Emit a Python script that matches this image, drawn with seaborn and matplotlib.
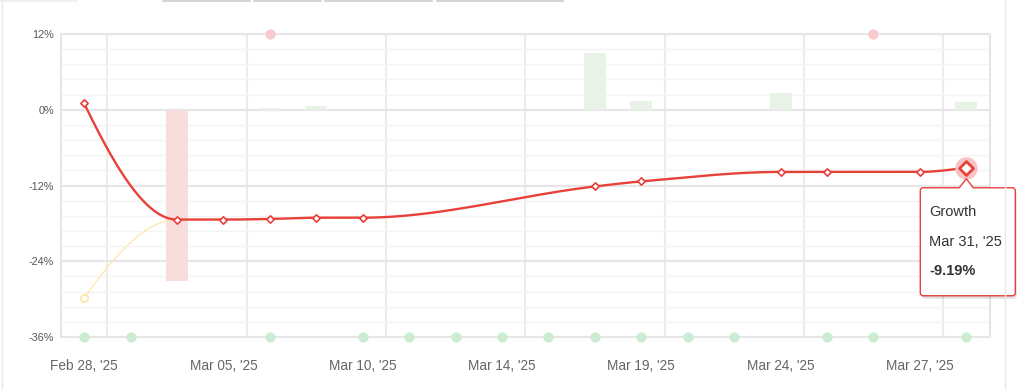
import numpy as np
import pandas as pd
import matplotlib
matplotlib.use("Agg")
import matplotlib.pyplot as plt
import matplotlib.transforms as mtransforms
from matplotlib.path import Path
from matplotlib.patches import PathPatch
from matplotlib.lines import Line2D
import seaborn as sns

# trading days shown on the category axis
dates = ["Feb 28, '25", "Mar 03, '25", "Mar 04, '25", "Mar 05, '25", "Mar 06, '25",
         "Mar 07, '25", "Mar 10, '25", "Mar 11, '25", "Mar 12, '25", "Mar 14, '25",
         "Mar 17, '25", "Mar 18, '25", "Mar 19, '25", "Mar 20, '25", "Mar 21, '25",
         "Mar 24, '25", "Mar 25, '25", "Mar 26, '25", "Mar 27, '25", "Mar 31, '25"]

# growth line (%), NaN where there is no point
growth = [1.0, np.nan, -17.4, -17.4, -17.3, -17.1, -17.1, np.nan, np.nan, np.nan,
          np.nan, -12.15, -11.35, np.nan, np.nan, -9.85, -9.85, np.nan, -9.85, -9.19]

# pale yellow series, only visible at the start
bench_idx = [0, 2, 3]
bench_val = [-29.8, -17.4, -17.4]

# daily change bars (%)
bar_idx = [2, 4, 5, 11, 12, 15, 19]
bar_val = [-27.2, 0.27, 0.53, 8.98, 1.43, 2.64, 1.22]

# event markers
green_idx = [0, 1, 4, 6, 7, 8, 9, 10, 11, 12, 13, 14, 16, 17, 19]
pink_idx = [4, 17]

y_ticks = [12, 0, -12, -24, -36]
y_labels = ["12%", "0%", "-12%", "-24%", "-36%"]

RED = "#e8403a"
GRID = "#e6e6e6"

sns.set_theme(style="white")
plt.rcParams["font.family"] = ["Liberation Sans", "DejaVu Sans"]


def pchip(x, y, n=40):
    # monotone cubic curve, used only to draw the smoothed line
    x = np.asarray(x, float)
    y = np.asarray(y, float)
    h = np.diff(x)
    d = np.diff(y) / h
    m = np.zeros_like(y)
    for k in range(1, len(x) - 1):
        if d[k - 1] * d[k] <= 0:
            m[k] = 0
        else:
            w1 = 2 * h[k] + h[k - 1]
            w2 = h[k] + 2 * h[k - 1]
            m[k] = (w1 + w2) / (w1 / d[k - 1] + w2 / d[k])

    def end(h0, h1, d0, d1):
        s = ((2 * h0 + h1) * d0 - h0 * d1) / (h0 + h1)
        if np.sign(s) != np.sign(d0):
            s = 0
        elif np.sign(d0) != np.sign(d1) and abs(s) > abs(3 * d0):
            s = 3 * d0
        return s

    if len(x) > 2:
        m[0] = end(h[0], h[1], d[0], d[1])
        m[-1] = end(h[-1], h[-2], d[-1], d[-2])
    else:
        m[:] = d[0]
    xs, ys = [], []
    for k in range(len(x) - 1):
        t = np.linspace(0, 1, n)
        h00 = 2 * t**3 - 3 * t**2 + 1
        h10 = t**3 - 2 * t**2 + t
        h01 = -2 * t**3 + 3 * t**2
        h11 = t**3 - t**2
        xs.append(x[k] + t * h[k])
        ys.append(h00 * y[k] + h10 * h[k] * m[k] + h01 * y[k + 1] + h11 * h[k] * m[k + 1])
    return np.concatenate(xs), np.concatenate(ys)


fig = plt.figure(figsize=(10.19, 3.89), dpi=100)
ax = fig.add_axes([61 / 1019, 52 / 389, 928.5 / 1019, 303 / 389])

# bars
bars = pd.DataFrame({"i": bar_idx, "v": bar_val})
bars["sign"] = np.where(bars["v"] < 0, "neg", "pos")
sns.barplot(data=bars, x="i", y="v", hue="sign", native_scale=True, width=0.475,
            palette={"neg": "#fdd8d8", "pos": "#e7f4e4"}, dodge=False,
            legend=False, ax=ax, zorder=2, linewidth=0)

# yellow series
bx, by = pchip(bench_idx, bench_val)
sns.lineplot(x=bx, y=by, sort=False, estimator=None, color="#fde9b2",
             linewidth=1.0, ax=ax, zorder=3)
sns.scatterplot(x=bench_idx[:1], y=bench_val[:1], marker="o", s=28,
                facecolor="white", edgecolor="#fde6a8", linewidth=1.2, ax=ax, zorder=3)

# growth line
gi = np.array([i for i, v in enumerate(growth) if not np.isnan(v)])
gv = np.array([growth[i] for i in gi])
gx, gy = pchip(gi, gv)
sns.lineplot(x=gx, y=gy, sort=False, estimator=None, color=RED, linewidth=1.7,
             ax=ax, zorder=4)
sns.scatterplot(x=gi[:-1], y=gv[:-1], marker="D", s=14, facecolor="white",
                edgecolor=RED, linewidth=1.2, ax=ax, zorder=5)

# hovered point
sns.scatterplot(x=gi[-1:], y=gv[-1:], marker="o", s=260, color="#f6c4c4",
                linewidth=0, ax=ax, zorder=5)
sns.scatterplot(x=gi[-1:], y=gv[-1:], marker="D", s=50, facecolor="white",
                edgecolor=RED, linewidth=2.0, ax=ax, zorder=6)

# event dots
sns.scatterplot(x=green_idx, y=[-36] * len(green_idx), s=55, color="#c9ecd2",
                linewidth=0, ax=ax, zorder=6, clip_on=False)
sns.scatterplot(x=pink_idx, y=[12] * len(pink_idx), s=55, color="#f9cacd",
                linewidth=0, ax=ax, zorder=6, clip_on=False)

# axes
ax.set_xlim(-0.5, len(dates) - 0.5)
ax.set_ylim(-36, 12)
ax.set_xticks(range(0, len(dates), 3))
ax.set_xticklabels([dates[i] for i in range(0, len(dates), 3)])
ax.set_xticks([i + 0.5 for i in range(0, len(dates) - 1, 3)], minor=True)
ax.set_yticks(y_ticks)
ax.set_yticklabels(y_labels)
ax.set_yticks(np.arange(-36, 12.1, 2.4), minor=True)
ax.tick_params(axis="x", length=0, pad=16, labelsize=9.8, labelcolor="#666666")
ax.tick_params(axis="y", length=0, pad=5, labelsize=7.8, labelcolor="#555555")
ax.tick_params(which="minor", length=0)
ax.grid(False)
ax.grid(axis="y", which="major", color=GRID, linewidth=1.5, zorder=0)
ax.grid(axis="y", which="minor", color="#f4f4f4", linewidth=1.0, zorder=0)
ax.grid(axis="x", which="minor", color="#ececec", linewidth=1.5, zorder=0)
ax.set_axisbelow(True)
ax.set_xlabel("")
ax.set_ylabel("")
for s in ax.spines.values():
    s.set_color(GRID)
    s.set_linewidth(1.5)

# tooltip, drawn in pixel offsets from the hovered point
tr = mtransforms.Affine2D() + mtransforms.ScaledTranslation(gi[-1], gv[-1], ax.transData)
L, R, T, B, r = -46, 49, -20, -128, 3
verts = [(0, -11), (7, T), (R - r, T), (R, T), (R, T - r), (R, B + r), (R, B),
         (R - r, B), (L + r, B), (L, B), (L, B + r), (L, T - r), (L, T), (L + r, T),
         (-7, T), (0, -11)]
codes = [Path.MOVETO, Path.LINETO, Path.LINETO, Path.CURVE3, Path.CURVE3, Path.LINETO,
         Path.CURVE3, Path.CURVE3, Path.LINETO, Path.CURVE3, Path.CURVE3, Path.LINETO,
         Path.CURVE3, Path.CURVE3, Path.LINETO, Path.CLOSEPOLY]
shadow_tr = mtransforms.Affine2D().translate(1.5, -3) + tr
ax.add_patch(PathPatch(Path(verts, codes), transform=shadow_tr, facecolor="#000000",
                       alpha=0.12, edgecolor="none", clip_on=False, zorder=9))
ax.add_patch(PathPatch(Path(verts, codes), transform=tr, facecolor="white",
                       edgecolor=RED, linewidth=1.0, clip_on=False, zorder=10))
for txt, dy, wt in [("Growth", -44, "normal"), (dates[-1], -74, "normal"),
                    (f"{gv[-1]:.2f}%", -103, "bold")]:
    ax.annotate(txt, xy=(gi[-1], gv[-1]), xytext=(-37, dy), textcoords="offset pixels",
                ha="left", va="center", fontsize=10.5, color="#333333",
                fontweight=wt, zorder=11, annotation_clip=False)

# panel frame around the chart
W, H = 1019, 389
def fline(x0, y0, x1, y1, c, lw=1.0):
    fig.add_artist(Line2D([x0 / W, x1 / W], [1 - y0 / H, 1 - y1 / H], color=c,
                          linewidth=lw, transform=fig.transFigure))

fline(2, 0, 2, H, "#e8e8e8")
fline(1004.5, 0, 1004.5, H, "#e8e8e8")
fline(0, 0.5, 77, 0.5, "#eeeeee", 1.2)
for a, b in [(163, 250), (254, 321), (325, 432), (437, 563)]:
    fline(a, 0.5, b, 0.5, "#d4d4d4", 1.5)

fig.savefig("out.png", dpi=100)
